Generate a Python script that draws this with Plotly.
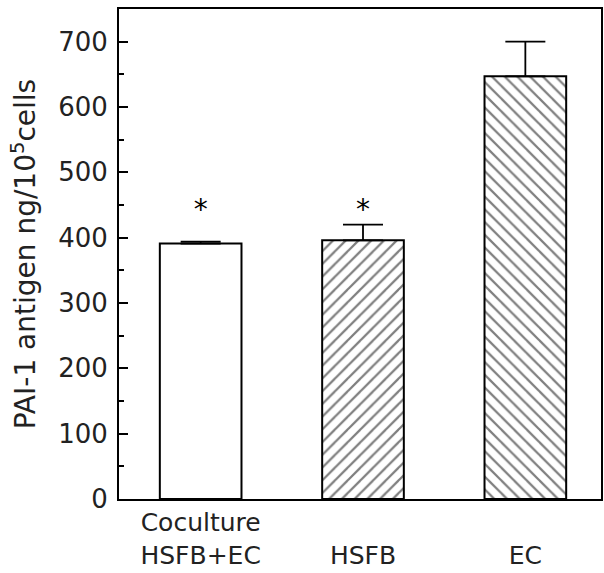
import plotly.graph_objects as go

categories = ["Coculture<br>HSFB+EC", " <br>HSFB", " <br>EC"]
values = [391, 396, 647]
errors_up = [3, 24, 53]
sig_labels = ["*", "*", ""]
sig_y = [440, 440, 0]
patterns = ["", "/", "\\"]
ytick_vals = [0, 100, 200, 300, 400, 500, 600, 700]

xpos = list(range(len(categories)))
FONT = "DejaVu Sans"

fig = go.Figure()
fig.add_trace(go.Bar(
    x=xpos, y=values, width=0.503,
    marker=dict(color="white", line=dict(color="black", width=2),
                pattern=dict(shape=patterns, fgcolor="black", bgcolor="white",
                             size=9, solidity=0.25)),
    error_y=dict(type="data", array=errors_up, arrayminus=[0]*len(values),
                 symmetric=False, color="black", thickness=1.8, width=20),
    showlegend=False,
))
fig.add_trace(go.Scatter(
    x=[p for p, s in zip(xpos, sig_labels) if s],
    y=[v for v, s in zip(sig_y, sig_labels) if s],
    mode="text", text=[s for s in sig_labels if s],
    textposition="middle center",
    textfont=dict(family=FONT, size=28, color="black"),
    showlegend=False, hoverinfo="skip",
))

fig.update_layout(
    width=604, height=573,
    margin=dict(l=119, r=1, t=9, b=74),
    paper_bgcolor="white", plot_bgcolor="white",
    font=dict(family=FONT, color="#222"),
    xaxis=dict(range=[-0.503, 2.466], tickvals=xpos, ticktext=categories,
               showline=True, linecolor="black", linewidth=2, mirror=True,
               ticks="", showgrid=False, zeroline=False,
               tickfont=dict(size=25, family=FONT), tickangle=0),
    yaxis=dict(range=[0, 750], tickvals=ytick_vals,
               showline=True, linecolor="black", linewidth=2, mirror=True,
               ticks="inside", ticklen=9, tickwidth=2, tickcolor="black",
               minor=dict(dtick=50, ticks="inside", ticklen=5, tickwidth=2,
                          tickcolor="black", showgrid=False),
               showgrid=False, zeroline=False,
               tickfont=dict(size=26, family=FONT), ticklabelstandoff=4,
               title=dict(text="PAI-1 antigen ng/10<sup>5</sup>cells",
                          font=dict(size=28, family=FONT), standoff=14)),
)

fig.write_html("out.html")
